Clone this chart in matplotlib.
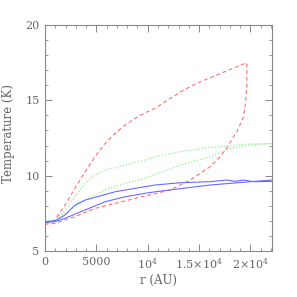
import matplotlib
matplotlib.use("Agg")
import matplotlib.pyplot as plt
from matplotlib.ticker import MultipleLocator, FixedLocator, FixedFormatter

# Data
red_upper_r = [0, 975, 1950, 2920, 3900, 4870, 5850, 6820, 7800, 8770, 9750, 10720, 12000, 13480, 15000, 16730, 18200, 19660]
red_upper_T = [6.9, 7.06, 8.05, 9.16, 10.26, 11.26, 12.14, 12.8, 13.36, 13.8, 14.18, 14.47, 15.05, 15.68, 16.2, 16.68, 17.1, 17.5]

red_lower_r = [0, 975, 2920, 4870, 6820, 8770, 10230, 12180, 14130, 16080, 17050, 17770, 18350, 18680, 19330, 19550, 19640, 19660]
red_lower_T = [6.78, 6.84, 7.28, 7.83, 8.16, 8.49, 8.72, 9.05, 9.71, 10.6, 11.26, 11.9, 12.58, 12.92, 13.9, 15.0, 16.0, 17.5]

green_upper_r = [0, 975, 1950, 2920, 3900, 4870, 5850, 7800, 9750, 10720, 13160, 16080, 18030, 19660, 22100]
green_upper_T = [6.98, 7.05, 7.72, 8.6, 9.49, 10.04, 10.37, 10.7, 11.04, 11.26, 11.59, 11.88, 11.99, 12.1, 12.12]

green_lower_r = [0, 975, 1950, 3900, 5850, 7800, 9750, 10720, 13160, 16080, 18030, 19970, 22100]
green_lower_T = [7.0, 7.02, 7.5, 8.38, 9.05, 9.49, 9.82, 10.1, 10.7, 11.26, 11.8, 12.03, 12.15]

blue_upper_r = [0, 975, 1950, 2920, 3900, 4870, 6820, 8770, 10720, 13160, 16080, 17700, 18500, 19330, 20300, 22100]
blue_upper_T = [6.95, 7.0, 7.39, 8.05, 8.38, 8.56, 8.93, 9.16, 9.38, 9.53, 9.6, 9.71, 9.62, 9.71, 9.6, 9.62]

blue_lower_r = [0, 975, 1950, 3900, 5850, 7800, 9750, 10720, 12180, 14130, 16080, 18030, 19970, 22100]
blue_lower_T = [6.88, 6.95, 7.17, 7.72, 8.27, 8.6, 8.83, 8.93, 9.05, 9.22, 9.38, 9.49, 9.6, 9.71]

x_ticks = [0, 5000, 10000, 15000, 20000]
x_labels = ["0", "5000", r"$10^4$", r"1.5$\times10^4$", r"2$\times10^4$"]
y_ticks = [5, 10, 15, 20]

plt.rcParams['font.family'] = ['DejaVu Serif']
plt.rcParams['mathtext.fontset'] = 'dejavuserif'

fig = plt.figure(figsize=(2.97, 2.97), dpi=100)
ax = fig.add_axes([45/297, 1-251/297, (272-45)/297, (251-25)/297])

red = '#ff7070'
green = '#90ee90'
blue = '#6a6aff'
ax.plot(red_upper_r, red_upper_T, color=red, lw=0.8, ls=(0, (3.5, 2.5)))
ax.plot(red_lower_r, red_lower_T, color=red, lw=0.8, ls=(0, (3.5, 2.5)))
ax.plot(green_upper_r, green_upper_T, color=green, lw=0.9, ls=(0, (1, 1.5)))
ax.plot(green_lower_r, green_lower_T, color=green, lw=0.9, ls=(0, (1, 1.5)))
ax.plot(blue_upper_r, blue_upper_T, color=blue, lw=0.8)
ax.plot(blue_lower_r, blue_lower_T, color=blue, lw=0.8)

ax.set_xlim(0, 22100)
ax.set_ylim(5, 20)

gray = '#666666'
ax.xaxis.set_major_locator(FixedLocator(x_ticks))
ax.xaxis.set_major_formatter(FixedFormatter(x_labels))
ax.xaxis.set_minor_locator(MultipleLocator(1000))
ax.yaxis.set_major_locator(FixedLocator(y_ticks))
ax.yaxis.set_minor_locator(MultipleLocator(1))
ax.tick_params(which='both', direction='in', top=True, right=True, colors='#888888',
               labelcolor=gray, labelsize=8)
ax.tick_params(which='major', length=5, width=0.7, pad=4)
ax.tick_params(which='minor', length=2.5, width=0.6)
for s in ax.spines.values():
    s.set_color('#888888')
    s.set_linewidth(0.8)

ax.set_xlabel("r (AU)", color=gray, fontsize=8.5, labelpad=2)
ax.set_ylabel("Temperature (K)", color=gray, fontsize=8.5)
ax.yaxis.set_label_coords(-30/227, 0.52)

fig.savefig("out.png", dpi=100)
